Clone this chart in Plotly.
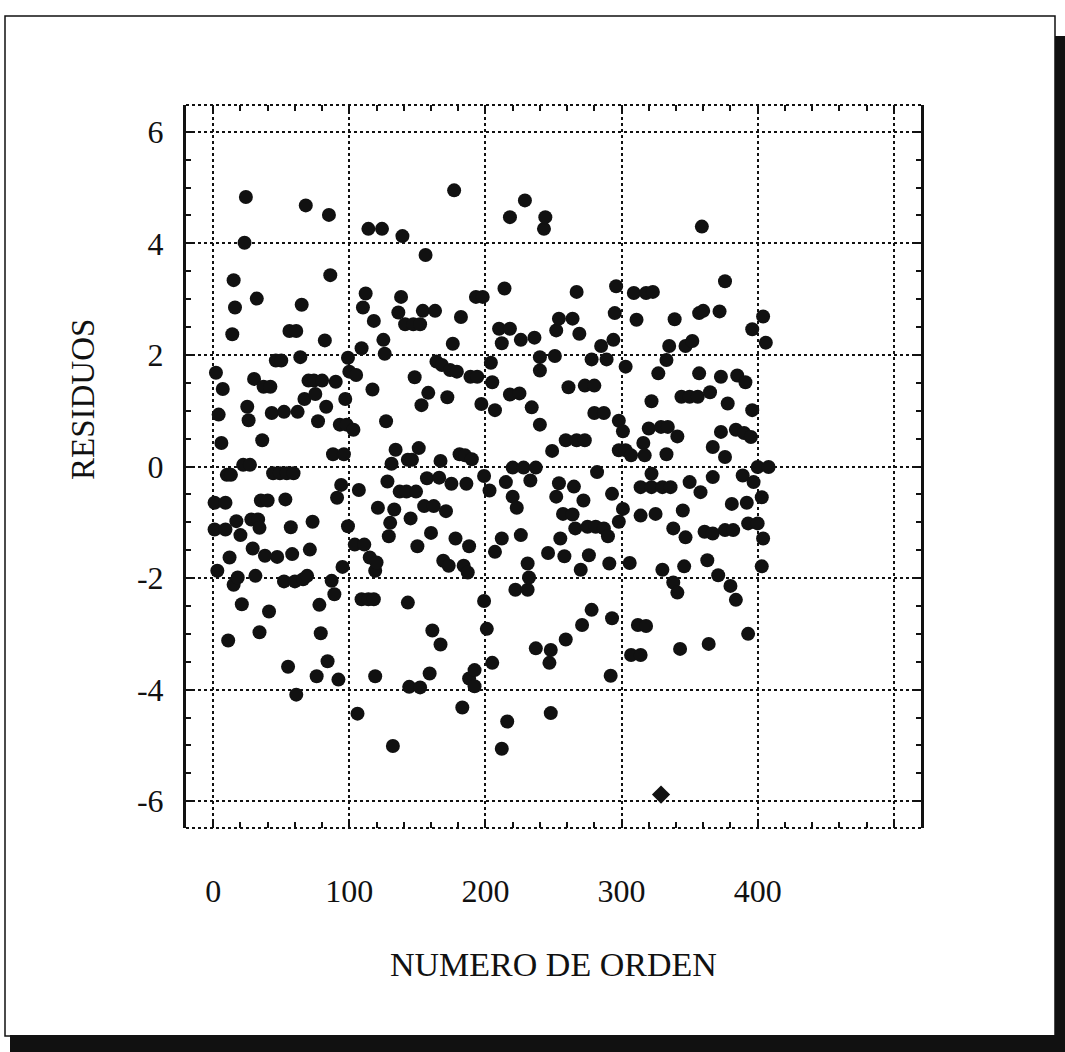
import plotly.graph_objects as go

# Residuals plotted against observation order number
orden = [
    24, 68, 85, 177, 114, 124, 139, 23, 156, 15,
    86, 112, 138, 193, 198, 32, 16, 65, 110, 136,
    154, 163, 182, 118, 141, 147, 152, 14, 56, 61,
    82, 125, 126, 109, 176, 46, 50, 64, 99, 2,
    100, 105, 30, 37, 42, 70, 74, 80, 90, 7,
    117, 148, 164, 168, 174, 179, 189, 194, 75, 67,
    97, 158, 172, 153, 197, 25, 26, 4, 43, 52,
    62, 83, 77, 93, 98, 103, 127, 6, 36, 88,
    96, 134, 151, 143, 146, 167, 181, 185, 190, 131,
    22, 27, 10, 13, 44, 49, 54, 59,
    107, 94, 91, 1, 9, 35, 40, 53, 128, 137,
    142, 149, 157, 166, 175, 186, 199, 121, 133, 155,
    162, 171, 130, 145, 129, 99, 104, 111, 160, 178,
    188, 150, 115, 120, 119, 169, 173, 184, 187, 17,
    28, 33, 34, 1, 9, 20, 57, 73, 12, 29,
    38, 47, 58, 71, 95, 3, 18, 15, 31, 52,
    60, 66, 69, 87, 89, 21, 41, 78, 11, 34,
    79, 55, 84, 76, 92, 61, 106, 132, 144, 152,
    159, 161, 167, 119, 143, 183, 192, 188, 192, 199,
    201, 109, 114, 118,
    229, 218, 244, 243, 359, 214, 267, 296, 309, 318,
    323, 376, 295, 311, 339, 357, 360, 372, 404, 406,
    396, 254, 264, 252, 269, 210, 218, 212, 226, 236,
    285, 294, 335, 347, 352, 333, 240, 240, 251, 278,
    289, 204, 303, 327, 357, 205, 373, 385, 391, 261,
    273, 280, 218, 225, 207, 234, 322, 344, 350, 356,
    365, 378, 396, 240, 280, 287, 298, 301, 320, 329,
    334, 341, 373, 384, 390, 395, 259, 267, 273, 249,
    298, 303, 307, 316, 317, 333, 367, 376,
    220, 228, 237, 322, 400, 408, 282, 215, 233, 203,
    254, 265, 252, 272, 293, 314, 322, 330, 336, 350,
    358, 367, 389, 397, 403, 220, 223, 301, 298, 257,
    264, 314, 325, 345, 381, 392, 266, 275, 281, 287,
    290, 338, 347, 361, 367, 376, 382, 393, 400, 404,
    212, 226, 255, 207, 246, 258, 276, 270, 291, 306,
    231, 232, 330, 346, 363, 371, 380, 384, 403, 338,
    341, 222, 231, 278, 271, 293, 312, 318, 393, 259,
    237, 248, 247, 205, 307, 314, 343, 364, 292, 216,
    248, 212, 329,
]

residuos = [
    4.83, 4.68, 4.51, 4.95, 4.26, 4.26, 4.13, 4.01, 3.79, 3.34,
    3.43, 3.10, 3.04, 3.04, 3.04, 3.01, 2.85, 2.90, 2.85, 2.76,
    2.79, 2.79, 2.68, 2.61, 2.55, 2.55, 2.55, 2.37, 2.43, 2.43,
    2.26, 2.27, 2.02, 2.12, 2.20, 1.90, 1.90, 1.96, 1.95, 1.68,
    1.70, 1.64, 1.57, 1.43, 1.43, 1.54, 1.54, 1.54, 1.52, 1.39,
    1.38, 1.60, 1.88, 1.82, 1.73, 1.70, 1.61, 1.61, 1.30, 1.21,
    1.21, 1.32, 1.24, 1.10, 1.12, 1.07, 0.83, 0.93, 0.96, 0.98,
    0.98, 1.07, 0.81, 0.75, 0.75, 0.66, 0.81, 0.42, 0.47, 0.22,
    0.22, 0.30, 0.33, 0.12, 0.12, 0.10, 0.22, 0.20, 0.13, 0.05,
    0.03, 0.03, -0.15, -0.15, -0.12, -0.12, -0.12, -0.12,
    -0.42, -0.33, -0.56, -0.65, -0.65, -0.61, -0.61, -0.59, -0.27, -0.45,
    -0.45, -0.45, -0.21, -0.20, -0.31, -0.31, -0.17, -0.74, -0.77, -0.71,
    -0.71, -0.80, -1.01, -0.93, -1.25, -1.07, -1.40, -1.40, -1.19, -1.29,
    -1.43, -1.43, -1.63, -1.72, -1.87, -1.69, -1.78, -1.78, -1.90, -0.98,
    -0.95, -0.95, -1.10, -1.13, -1.13, -1.23, -1.09, -0.99, -1.63, -1.47,
    -1.60, -1.62, -1.57, -1.49, -1.80, -1.87, -1.99, -2.12, -1.96, -2.06,
    -2.06, -2.02, -1.96, -2.05, -2.29, -2.47, -2.60, -2.48, -3.12, -2.97,
    -2.99, -3.59, -3.49, -3.76, -3.82, -4.09, -4.43, -5.01, -3.95, -3.96,
    -3.71, -2.94, -3.19, -3.76, -2.44, -4.32, -3.65, -3.80, -3.94, -2.41,
    -2.91, -2.38, -2.38, -2.38,
    4.77, 4.47, 4.47, 4.26, 4.30, 3.19, 3.13, 3.23, 3.11, 3.11,
    3.13, 3.32, 2.75, 2.63, 2.64, 2.75, 2.79, 2.78, 2.69, 2.22,
    2.46, 2.65, 2.65, 2.44, 2.38, 2.47, 2.47, 2.21, 2.27, 2.31,
    2.16, 2.27, 2.16, 2.16, 2.25, 1.91, 1.96, 1.72, 1.98, 1.92,
    1.92, 1.86, 1.79, 1.67, 1.67, 1.51, 1.61, 1.63, 1.51, 1.42,
    1.45, 1.45, 1.29, 1.31, 1.01, 1.06, 1.17, 1.25, 1.25, 1.25,
    1.33, 1.13, 1.01, 0.75, 0.96, 0.96, 0.82, 0.63, 0.68, 0.71,
    0.71, 0.54, 0.62, 0.66, 0.60, 0.53, 0.47, 0.47, 0.47, 0.28,
    0.29, 0.29, 0.20, 0.42, 0.20, 0.22, 0.35, 0.17,
    -0.02, -0.02, -0.02, -0.13, -0.01, -0.01, -0.10, -0.28, -0.25, -0.43,
    -0.30, -0.36, -0.54, -0.61, -0.49, -0.37, -0.37, -0.37, -0.37, -0.28,
    -0.46, -0.19, -0.16, -0.28, -0.55, -0.54, -0.74, -0.76, -0.99, -0.85,
    -0.86, -0.88, -0.85, -0.79, -0.67, -0.65, -1.11, -1.08, -1.08, -1.11,
    -1.25, -1.11, -1.27, -1.17, -1.20, -1.14, -1.14, -1.02, -1.02, -1.29,
    -1.29, -1.23, -1.29, -1.53, -1.55, -1.61, -1.59, -1.85, -1.74, -1.73,
    -1.74, -1.99, -1.85, -1.79, -1.68, -1.95, -2.14, -2.39, -1.79, -2.08,
    -2.26, -2.21, -2.21, -2.57, -2.84, -2.72, -2.84, -2.86, -3.00, -3.10,
    -3.26, -3.29, -3.52, -3.52, -3.38, -3.38, -3.27, -3.18, -3.75, -4.57,
    -4.42, -5.06, -5.88,
]

x_ticks = [0, 100, 200, 300, 400, 500]
x_tick_labels = ["0", "100", "200", "300", "400", ""]
y_ticks = [-6, -4, -2, 0, 2, 4, 6]
y_tick_labels = ["-6", "-4", "-2", "0", "2", "4", "6"]

FONT = "Liberation Serif"
INK = "#111111"

# page geometry (pixels) used to place the frame decorations
W, H = 1065, 1052
L, R, T, B = 186, 144, 105, 224
PW, PH = W - L - R, H - T - B


def px(xp):
    return (xp - L) / PW


def py(yp):
    return (H - B - yp) / PH


pares = sorted(zip(orden, residuos))
xs = [p[0] for p in pares]
ys = [p[1] for p in pares]
simbolos = ["diamond" if v < -5.5 else "circle" for v in ys]

fig = go.Figure(
    go.Scatter(
        x=xs,
        y=ys,
        mode="markers",
        marker=dict(size=14, color=INK, symbol=simbolos, line=dict(width=0)),
        hoverinfo="x+y",
    )
)

axis_common = dict(
    showgrid=True,
    gridcolor=INK,
    griddash="dot",
    gridwidth=1.5,
    zeroline=False,
    ticks="inside",
    ticklen=7,
    tickwidth=1.5,
    tickcolor=INK,
    mirror="ticks",
    tickfont=dict(family=FONT, size=32, color=INK),
)

fig.update_layout(
    width=W,
    height=H,
    margin=dict(l=L, r=R, t=T, b=B),
    paper_bgcolor="white",
    plot_bgcolor="white",
    showlegend=False,
    xaxis=dict(
        range=[-20, 520],
        tickmode="array",
        tickvals=x_ticks,
        ticktext=x_tick_labels,
        showline=False,
        ticklabelstandoff=41,
        minor=dict(dtick=20, ticks="inside", ticklen=6, tickwidth=1.5,
                   tickcolor=INK, showgrid=False),
        **axis_common,
    ),
    yaxis=dict(
        range=[-6.48, 6.48],
        tickmode="array",
        tickvals=y_ticks,
        ticktext=y_tick_labels,
        showline=True,
        linewidth=3,
        linecolor=INK,
        ticklabelstandoff=13,
        minor=dict(dtick=0.5, ticks="inside", ticklen=5, tickwidth=1.5,
                   tickcolor=INK, showgrid=False),
        **axis_common,
    ),
    annotations=[
        dict(text="NUMERO DE ORDEN", x=px(553), y=py(964), xref="paper",
             yref="paper", showarrow=False, xanchor="center", yanchor="middle",
             font=dict(family=FONT, size=34, color=INK)),
        dict(text="RESIDUOS", x=px(83), y=py(400), xref="paper",
             yref="paper", showarrow=False, xanchor="center", yanchor="middle",
             textangle=-90, font=dict(family=FONT, size=33, color=INK)),
    ],
    shapes=[
        # dotted top and bottom edges of the plotting frame
        dict(type="line", xref="paper", yref="paper", x0=0, x1=1, y0=1, y1=1,
             line=dict(color=INK, width=2, dash="dot")),
        dict(type="line", xref="paper", yref="paper", x0=0, x1=1, y0=0, y1=0,
             line=dict(color=INK, width=2, dash="dot")),
        # outer page border
        dict(type="rect", xref="paper", yref="paper",
             x0=px(5), x1=px(1055), y0=py(1036), y1=py(16),
             line=dict(color=INK, width=1.5), fillcolor="rgba(0,0,0,0)"),
        # heavy shadow along the right and bottom of the border
        dict(type="rect", xref="paper", yref="paper",
             x0=px(1055), x1=px(1066), y0=py(1053), y1=py(36),
             line=dict(width=0), fillcolor=INK),
        dict(type="rect", xref="paper", yref="paper",
             x0=px(10), x1=px(1066), y0=py(1053), y1=py(1035),
             line=dict(width=0), fillcolor=INK),
    ],
)

fig.write_html("out.html")
